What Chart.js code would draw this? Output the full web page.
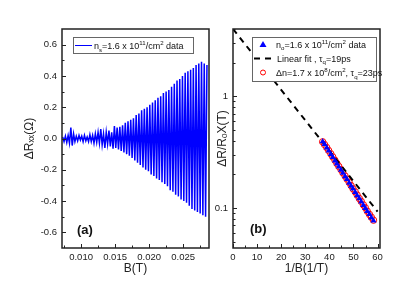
<!DOCTYPE html>
<html>
<head>
<meta charset="utf-8">
<script src="https://cdn.jsdelivr.net/npm/chart.js@4"></script>
<style>
  body { margin: 0; background: #fff; }
  #wrap { position: relative; width: 415px; height: 291px; }
  canvas { position: absolute; top: 0; }
  #cA { left: 0; }
  #cB { left: 212px; }
</style>
</head>
<body>
<div id="wrap">
  <canvas id="cA" width="212" height="291"></canvas>
  <canvas id="cB" width="203" height="291"></canvas>
</div>
<script>
// (a) oscillation trace
const bField = [
  0.0073,0.0075,0.0077,0.0079,0.0081,0.0083,0.0085,0.0087,0.0089,0.0091,
  0.0093,0.0095,0.0097,0.0099,0.0101,0.0103,0.0105,0.0107,0.0109,0.0111,
  0.0113,0.0115,0.0117,0.0119,0.0121,0.0123,0.0125,0.0127,0.0129,0.0131,
  0.0133,0.0135,0.0137,0.0139,0.0141,0.0143,0.0145,0.0147,0.0149,0.0151,
  0.0153,0.0155,0.0157,0.0159,0.0161,0.0163,0.0165,0.0167,0.0169,0.0171,
  0.0173,0.0175,0.0177,0.0179,0.0181,0.0183,0.0185,0.0187,0.0189,0.0191,
  0.0193,0.0195,0.0197,0.0199,0.0201,0.0203,0.0205,0.0207,0.0209,0.0211,
  0.0213,0.0215,0.0217,0.0219,0.0221,0.0223,0.0225,0.0227,0.0229,0.0231,
  0.0233,0.0235,0.0237,0.0239,0.0241,0.0243,0.0245,0.0247,0.0249,0.0251,
  0.0253,0.0255,0.0257,0.0259,0.0261,0.0263,0.0265,0.0267,0.0269,0.0271,
  0.0273,0.0275,0.0277,0.0279,0.0281,0.0283,0.0285
];
const dRxx = [
  0.01,-0.02,0.015,-0.025,0.02,-0.03,0.07,-0.045,0.03,-0.02,
  0.015,-0.015,0.02,-0.01,0.015,-0.02,0.02,-0.015,0.01,-0.02,
  0.025,-0.02,0.02,-0.03,0.03,-0.025,0.04,-0.03,0.06,-0.04,
  0.03,-0.06,0.04,-0.035,0.05,-0.05,0.04,-0.065,0.08,-0.06,
  0.07,-0.07,0.075,-0.08,0.085,-0.09,0.1,-0.1,0.11,-0.11,
  0.12,-0.125,0.13,-0.14,0.15,-0.155,0.16,-0.17,0.18,-0.185,
  0.19,-0.2,0.2,-0.21,0.215,-0.23,0.23,-0.24,0.245,-0.255,
  0.26,-0.265,0.27,-0.28,0.29,-0.29,0.3,-0.305,0.31,-0.33,
  0.33,-0.34,0.35,-0.36,0.37,-0.37,0.38,-0.39,0.4,-0.4,
  0.42,-0.41,0.43,-0.43,0.44,-0.45,0.45,-0.46,0.47,-0.47,
  0.48,-0.48,0.49,-0.49,0.48,-0.5,0.47
];
const aXTicks = [0.010, 0.015, 0.020, 0.025];
const aXMinor = [0.0075, 0.0125, 0.0175, 0.0225, 0.0275];
const aYTicks = [-0.6, -0.4, -0.2, 0.0, 0.2, 0.4, 0.6];
const aYMinor = [-0.5, -0.3, -0.1, 0.1, 0.3, 0.5];

// (b) amplitude vs 1/B
const invB = [37.2,38.0,38.9,39.7,40.6,41.4,42.3,43.1,43.9,44.8,45.6,46.5,47.3,
              48.2,49.0,49.8,50.7,51.5,52.4,53.2,54.1,54.9,55.7,56.6,57.4,58.3];
const ampData = [0.395,0.372,0.347,0.326,0.304,0.285,0.266,0.250,0.235,0.219,0.206,0.192,0.181,
                 0.168,0.158,0.149,0.139,0.130,0.122,0.114,0.106,0.100,0.094,0.088,0.082,0.077];
const ampModel = [0.392,0.370,0.348,0.327,0.306,0.287,0.268,0.251,0.236,0.221,0.207,0.194,0.182,
                  0.170,0.159,0.149,0.140,0.131,0.122,0.115,0.107,0.101,0.094,0.088,0.083,0.078];
const fitX = [0, 60];
const fitY = [4.0, 0.093];
const bXTicks = [0, 10, 20, 30, 40, 50, 60];
const bXMinor = [5, 15, 25, 35, 45, 55];
const bYTicks = [0.1, 1];
const bYMinor = [0.05,0.06,0.07,0.08,0.09,0.2,0.3,0.4,0.5,0.6,0.7,0.8,0.9,2,3,4];

const FONT = '"Liberation Sans", Arial, sans-serif';
Chart.defaults.font.family = FONT;
Chart.defaults.color = '#222';

function richText(ctx, x, y, runs, size) {
  runs.forEach(([t, k]) => {
    const s = k ? size * 0.68 : size;
    const dy = k === 'sub' ? size * 0.3 : k === 'sup' ? -size * 0.4 : 0;
    ctx.font = s + 'px ' + FONT;
    ctx.fillText(t, x, y + dy);
    x += ctx.measureText(t).width;
  });
}

// frame + inward ticks, then legend/labels
const frame = {
  id: 'frame',
  afterDatasetsDraw(chart, args, o) {
    const { ctx, chartArea: a, scales: { x, y } } = chart;
    ctx.save();
    ctx.strokeStyle = '#222';
    ctx.lineWidth = 1;
    ctx.beginPath();
    const vx = (vals, len) => vals.forEach(v => {
      const p = Math.round(x.getPixelForValue(v)) + 0.5;
      ctx.moveTo(p, a.bottom); ctx.lineTo(p, a.bottom - len);
    });
    const vy = (vals, len) => vals.forEach(v => {
      const p = Math.round(y.getPixelForValue(v)) + 0.5;
      ctx.moveTo(a.left, p); ctx.lineTo(a.left + len, p);
    });
    vx(o.xMajor, 4); vx(o.xMinor, 2.5);
    vy(o.yMajor, 4); vy(o.yMinor, 2.5);
    ctx.stroke();
    ctx.lineWidth = 1.5;
    ctx.strokeRect(a.left, a.top, a.width, a.height);
    ctx.restore();
  },
  afterDraw(chart, args, o) {
    const ctx = chart.ctx;
    ctx.save();
    o.decor(ctx, chart);
    ctx.restore();
  }
};

function axisOpts(extra) {
  return Object.assign({
    grid: { display: false, drawTicks: false },
    border: { display: false },
  }, extra);
}

// ---- chart (a)
new Chart(document.getElementById('cA'), {
  type: 'line',
  data: {
    datasets: [{
      data: bField.map((b, i) => ({ x: b, y: dRxx[i] })),
      borderColor: '#0000ff',
      borderWidth: 1.5,
      pointRadius: 0,
      tension: 0
    }]
  },
  options: {
    responsive: false,
    animation: false,
    layout: { padding: { left: 0, right: 3, top: 29, bottom: 0 } },
    plugins: {
      legend: { display: false },
      tooltip: { enabled: false },
      frame: {
        xMajor: aXTicks, xMinor: aXMinor, yMajor: aYTicks, yMinor: aYMinor,
        decor(ctx, chart) {
          ctx.fillStyle = '#fff';
          ctx.strokeStyle = '#666';
          ctx.lineWidth = 1;
          ctx.fillRect(73.5, 37.5, 120, 16);
          ctx.strokeRect(73.5, 37.5, 120, 16);
          ctx.strokeStyle = '#0000ff';
          ctx.beginPath(); ctx.moveTo(75, 45.5); ctx.lineTo(92, 45.5); ctx.stroke();
          ctx.fillStyle = '#111';
          ctx.textBaseline = 'alphabetic';
          richText(ctx, 94, 49, [['n'], ['s', 'sub'], ['=1.6 x 10'], ['11', 'sup'], ['/cm'], ['2', 'sup'], [' data']], 9);
          ctx.font = 'bold 13px ' + FONT;
          ctx.fillText('(a)', 77, 234);
        }
      }
    },
    scales: {
      x: axisOpts({
        type: 'linear', min: 0.0072, max: 0.0288,
        afterBuildTicks: s => { s.ticks = aXTicks.map(v => ({ value: v })); },
        afterFit: s => { s.height = 43; },
        ticks: { padding: 4, font: { size: 9.5 }, autoSkip: false, maxRotation: 0, callback: v => v.toFixed(3) },
        title: { display: true, text: 'B(T)', font: { size: 12 }, padding: { top: 0, bottom: 15 } }
      }),
      y: axisOpts({
        min: -0.7, max: 0.7,
        afterBuildTicks: s => { s.ticks = aYTicks.map(v => ({ value: v })); },
        afterFit: s => { s.width = 62; },
        ticks: { padding: 5, font: { size: 9.5 }, autoSkip: false, callback: v => v.toFixed(1) },
        title: { display: true, text: 'ΔRₓₓ(Ω)', font: { size: 12 }, padding: { top: 22, bottom: 0 } }
      })
    }
  },
  plugins: [frame]
});

// ---- chart (b)
new Chart(document.getElementById('cB'), {
  type: 'line',
  data: {
    datasets: [
      {
        data: invB.map((v, i) => ({ x: v, y: ampData[i] })),
        showLine: false,
        pointStyle: 'triangle',
        pointRadius: 3.5,
        backgroundColor: '#0000ff',
        borderColor: '#0000ff',
        borderWidth: 0
      },
      {
        data: fitX.map((v, i) => ({ x: v, y: fitY[i] })),
        borderColor: '#000',
        borderWidth: 2,
        borderDash: [6, 5],
        pointRadius: 0
      },
      {
        data: invB.map((v, i) => ({ x: v, y: ampModel[i] })),
        showLine: false,
        pointStyle: 'circle',
        pointRadius: 3.2,
        backgroundColor: 'rgba(0,0,0,0)',
        borderColor: '#ff0000',
        borderWidth: 1
      }
    ]
  },
  options: {
    responsive: false,
    animation: false,
    layout: { padding: { left: 0, right: 35, top: 29, bottom: 0 } },
    plugins: {
      legend: { display: false },
      tooltip: { enabled: false },
      frame: {
        xMajor: bXTicks, xMinor: bXMinor, yMajor: bYTicks, yMinor: bYMinor,
        decor(ctx, chart) {
          const ox = -212;
          ctx.fillStyle = '#fff';
          ctx.strokeStyle = '#666';
          ctx.lineWidth = 1;
          ctx.fillRect(252.5 + ox, 37.5, 124, 44);
          ctx.strokeRect(252.5 + ox, 37.5, 124, 44);
          // triangle
          ctx.fillStyle = '#0000ff';
          ctx.beginPath();
          ctx.moveTo(263 + ox, 41); ctx.lineTo(266.5 + ox, 47); ctx.lineTo(259.5 + ox, 47); ctx.closePath();
          ctx.fill();
          // dash
          ctx.strokeStyle = '#000'; ctx.lineWidth = 2;
          ctx.setLineDash([6, 5]);
          ctx.beginPath(); ctx.moveTo(254 + ox, 58.5); ctx.lineTo(274 + ox, 58.5); ctx.stroke();
          ctx.setLineDash([]);
          // circle
          ctx.strokeStyle = '#ff0000'; ctx.lineWidth = 1;
          ctx.beginPath(); ctx.arc(263 + ox, 72.5, 2.5, 0, Math.PI * 2); ctx.stroke();
          ctx.fillStyle = '#111';
          ctx.textBaseline = 'alphabetic';
          richText(ctx, 276 + ox, 47.5, [['n'], ['o', 'sub'], ['=1.6 x 10'], ['11', 'sup'], ['/cm'], ['2', 'sup'], [' data']], 9);
          richText(ctx, 277 + ox, 61.5, [['Linear fit , τ'], ['q', 'sub'], ['=19ps']], 9);
          richText(ctx, 276 + ox, 76, [['Δn=1.7 x 10'], ['8', 'sup'], ['/cm'], ['2', 'sup'], [', τ'], ['q', 'sub'], ['=23ps']], 9);
          ctx.font = 'bold 13px ' + FONT;
          ctx.fillText('(b)', 250 + ox, 233);
        }
      }
    },
    scales: {
      x: axisOpts({
        type: 'linear', min: 0, max: 61,
        afterBuildTicks: s => { s.ticks = bXTicks.map(v => ({ value: v })); },
        afterFit: s => { s.height = 43; },
        ticks: { padding: 4, font: { size: 9.5 }, autoSkip: false, maxRotation: 0, callback: v => String(v) },
        title: { display: true, text: '1/B(1/T)', font: { size: 12 }, padding: { top: 0, bottom: 15 } }
      }),
      y: axisOpts({
        type: 'logarithmic', min: 0.044, max: 4.0,
        afterBuildTicks: s => { s.ticks = bYTicks.map(v => ({ value: v })); },
        afterFit: s => { s.width = 21; },
        ticks: { padding: 5, font: { size: 9.5 }, autoSkip: false, callback: v => String(v) },
        title: { display: true, text: 'ΔR/RₒX(T)', font: { size: 12 }, padding: { top: 3, bottom: 0 } }
      })
    }
  },
  plugins: [frame]
});
</script>
</body>
</html>
